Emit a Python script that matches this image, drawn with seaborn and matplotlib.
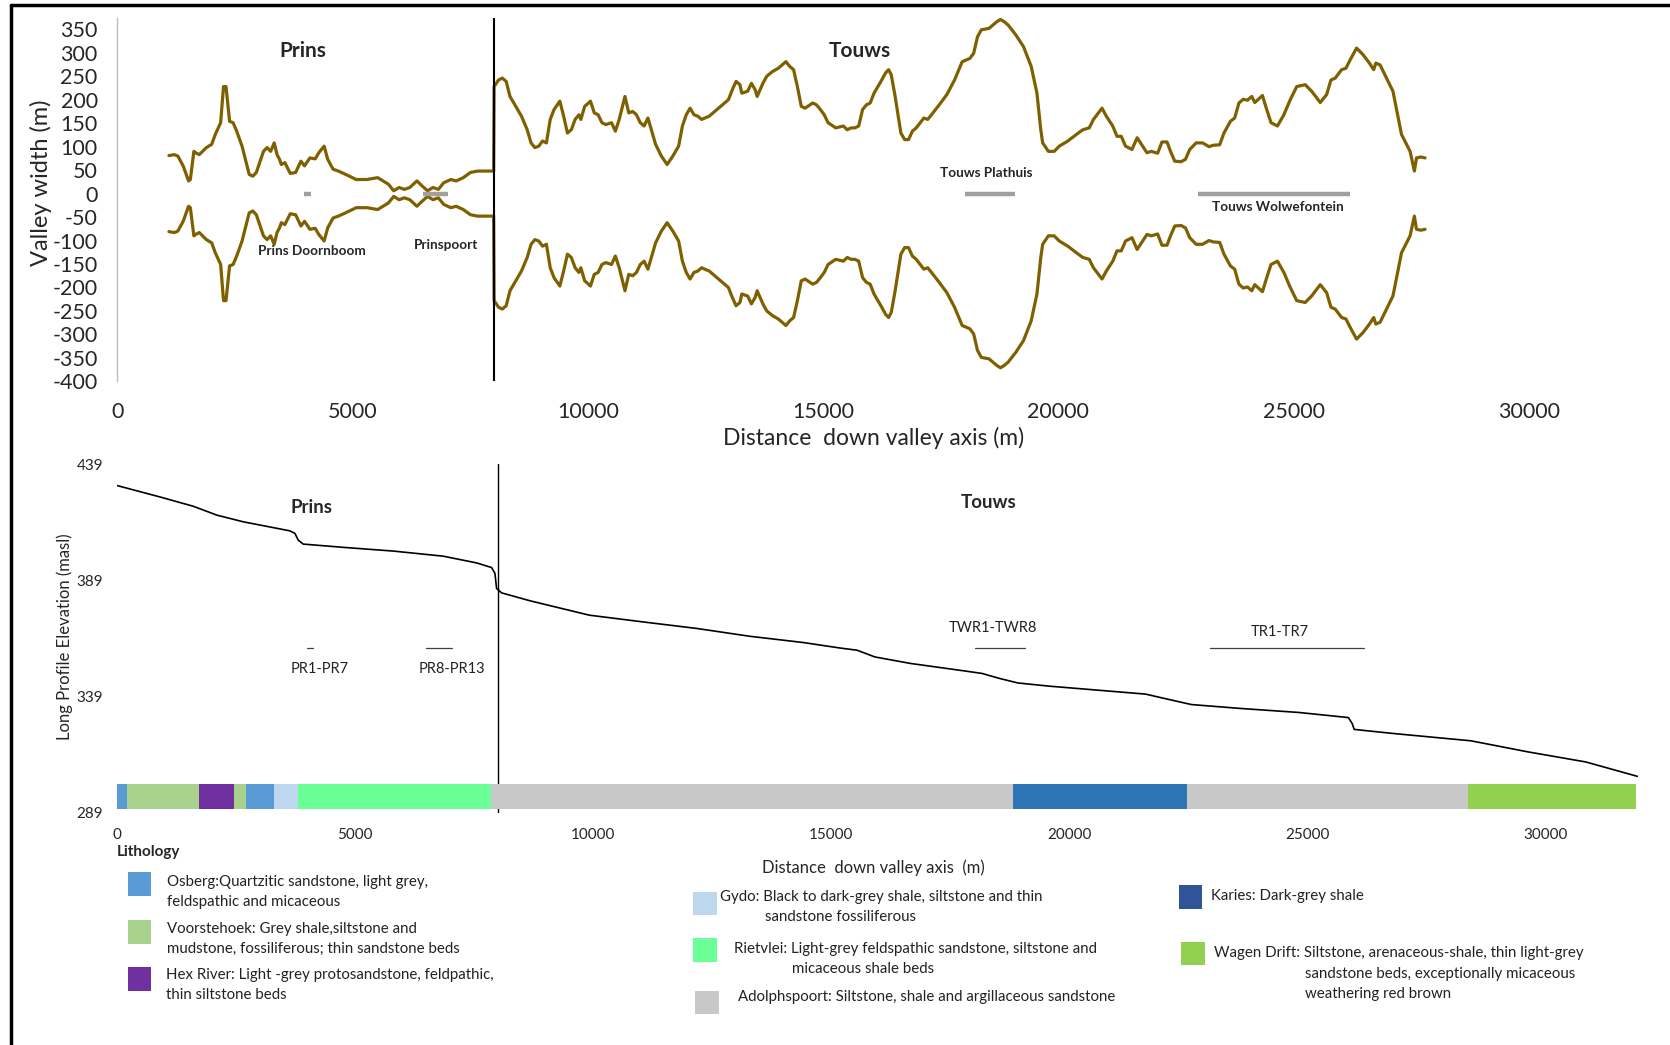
import matplotlib
matplotlib.use("Agg")
import matplotlib.pyplot as plt
from matplotlib.patches import Rectangle
from matplotlib.lines import Line2D
import seaborn as sns
import numpy as np

# ---------------- data ----------------
# Valley half-width (m) along the valley axis (m); the valley floor is drawn symmetric (+/-)
width_dist = [
    1100, 1213, 1289, 1403, 1517, 1555, 1630, 1668, 1744, 1896, 2009, 2085, 2199, 2260, 2313,
    2389, 2464, 2540, 2654, 2806, 2882, 2957, 3109, 3185, 3261, 3337, 3397, 3450, 3488, 3564,
    3678, 3792, 3905, 3981, 4095, 4209, 4284, 4398, 4474, 4588, 4701, 4853, 5081, 5308, 5536,
    5649, 5763, 5877, 5990, 6104, 6218, 6370, 6483, 6597, 6711, 6825, 6938, 7090, 7204, 7355,
    7507, 7659, 8000,
    8010, 8103, 8184, 8266, 8347, 8469, 8591, 8713, 8795, 8876, 8958, 9039, 9121, 9202, 9283,
    9406, 9487, 9568, 9650, 9731, 9813, 9853, 9935, 10016, 10057, 10138, 10220, 10301, 10383,
    10505, 10586, 10668, 10790, 10871, 10953, 11034, 11116, 11197, 11278, 11360, 11441, 11563,
    11686, 11808, 11930, 12011, 12093, 12174, 12256, 12337, 12418, 12581, 12744, 12907, 12988,
    13070, 13151, 13233, 13273, 13396, 13477, 13558, 13599, 13721, 13803, 13925, 14047, 14128,
    14210, 14291, 14373, 14454, 14536, 14617, 14780, 14861, 14943, 15024, 15106, 15269, 15431,
    15513, 15594, 15676, 15757, 15839, 15920, 16001, 16083, 16164, 16246, 16327, 16392, 16449,
    16531, 16653, 16734, 16816, 16897, 16979, 17141, 17223, 17304, 17467, 17630, 17793, 17956,
    18119, 18200, 18281, 18363, 18526, 18689, 18770, 18851, 18933, 19096, 19259, 19422, 19544,
    19626, 19666, 19788, 19910, 20018, 20200, 20382, 20518, 20655, 20745, 20927, 21018, 21155,
    21245, 21336, 21427, 21564, 21673, 21791, 21882, 21973, 22109, 22200, 22309, 22382, 22473,
    22609, 22700, 22791, 22927, 23064, 23200, 23291, 23427, 23518, 23655, 23745, 23836, 23927,
    24018, 24109, 24173, 24336, 24427, 24518, 24655, 24791, 24927, 25064, 25245, 25382, 25564,
    25700, 25791, 25882, 26018, 26109, 26200, 26336, 26473, 26609, 26700, 26745, 26836, 26973,
    27109, 27200, 27291, 27382, 27473, 27564, 27609, 27700, 27791,
]
half_width = [
    81, 83, 80, 59, 27, 30, 90, 87, 83, 98, 105, 126, 151, 228, 228,
    154, 151, 133, 101, 41, 37, 45, 90, 98, 90, 108, 83, 73, 62, 66,
    43, 45, 69, 59, 76, 74, 87, 101, 73, 52, 48, 41, 30, 30, 34,
    27, 20, 6, 13, 9, 13, 27, 16, 6, 13, 9, 23, 30, 27, 34,
    45, 48, 48,
    228, 242, 246, 239, 207, 186, 165, 136, 108, 98, 101, 112, 108, 158, 179,
    197, 165, 129, 136, 158, 168, 158, 186, 193, 197, 172, 168, 151, 147,
    151, 133, 158, 207, 172, 175, 168, 151, 144, 161, 133, 105, 80,
    62, 80, 101, 144, 168, 182, 168, 165, 158, 165, 179, 193, 200,
    221, 239, 232, 214, 218, 235, 221, 207, 235, 250, 260, 267, 274,
    281, 271, 264, 228, 186, 182, 193, 189, 179, 168, 151, 140, 144,
    136, 140, 140, 144, 179, 189, 193, 214, 228, 242, 257, 264, 253,
    207, 129, 115, 115, 133, 140, 161, 158, 168, 189, 211, 242, 281,
    288, 299, 334, 349, 352, 366, 371, 366, 359, 338, 313, 271, 214,
    136, 108, 90, 90, 101, 112, 126, 136, 140, 158, 182, 165, 144,
    122, 122, 101, 94, 119, 101, 87, 90, 86, 110, 110, 90, 69,
    68, 73, 94, 108, 108, 100, 103, 104, 129, 154, 161, 193, 201,
    199, 207, 194, 209, 179, 151, 144, 168, 200, 228, 232, 218, 194,
    211, 242, 246, 264, 267, 285, 310, 296, 278, 264, 278, 274, 246,
    218, 172, 126, 108, 90, 48, 76, 78, 76,
]

# Long profile (distance m, elevation masl)
profile_dist = [0, 899, 1598, 2090, 2649, 3629, 3734, 3804, 3909, 4749, 5799, 6849, 7550,
                7865, 7935, 7970, 8075, 8670, 9916, 11041, 12166, 13291, 14417, 15167, 15542,
                15917, 16667, 17793, 18167, 18543, 18919, 19594, 21603, 22004, 22566, 23613,
                24818, 25862, 25942, 25984, 26826, 28434, 29641, 30846, 31930]
profile_elev = [429.9, 425.0, 421.0, 417.2, 414.3, 410.4, 409.3, 406.4, 404.7, 403.3, 401.7,
                399.5, 396.6, 394.6, 392.1, 385.6, 383.7, 380.3, 374.1, 371.2, 368.4, 365.0,
                362.3, 360.0, 359.0, 356.1, 353.3, 350.1, 349.0, 346.8, 344.9, 343.5, 340.1,
                338.2, 335.6, 333.9, 332.2, 330.0, 327.4, 324.9, 323.1, 320.0, 315.2, 310.9,
                304.7]

# Study reaches
reach_names = ["Prins Doornboom", "Prinspoort", "Touws Plathuis", "Touws Wolwefontein"]
reach_codes = ["PR1-PR7", "PR8-PR13", "TWR1-TWR8", "TR1-TR7"]
reach_start = [3980, 6490, 18010, 22960]
reach_end = [4120, 7040, 19070, 26200]

# Lithology along the valley axis
litho_units = ["Osberg", "Voorstehoek", "Hex River", "Voorstehoek", "Osberg", "Gydo",
               "Rietvlei", "Adolphspoort", "Karies", "Adolphspoort", "Wagen Drift"]
litho_bounds = [0, 217, 1718, 2452, 2716, 3286, 3796, 7852, 18814, 22465, 28376, 31900]
bar_colours = {"Osberg": "#5B9BD5", "Voorstehoek": "#A9D18E", "Hex River": "#7030A0",
               "Gydo": "#BDD7EE", "Rietvlei": "#6BFF98", "Adolphspoort": "#C8C8C8",
               "Karies": "#2E75B6", "Wagen Drift": "#92D050"}
legend_colours = {"Osberg": "#5B9BD5", "Voorstehoek": "#A9D18E", "Hex River": "#7030A0",
                  "Gydo": "#BDD7EE", "Rietvlei": "#6BFF98", "Adolphspoort": "#C8C8C8",
                  "Karies": "#2F5597", "Wagen Drift": "#92D050"}

river_split = 8000

# ---------------- figure ----------------
sns.set_theme(style="white")
plt.rcParams["font.family"] = ["Lato", "DejaVu Sans"]
plt.rcParams["axes.unicode_minus"] = False

W, H = 1568.0, 981.0
def fx(px):
    return px / W
def fy(py):
    return 1 - py / H

fig = plt.figure(figsize=(16.7, 10.45), dpi=100)
fig.patch.set_facecolor("white")

gold = "#7F6000"

# ---- top panel: valley width ----
ax1 = fig.add_axes([fx(110), fy(358), fx(1524) - fx(110), fy(16.5) - fy(358)])
hw = np.array(half_width, dtype=float)
sns.lineplot(x=width_dist, y=hw, ax=ax1, color=gold, lw=2.3, sort=False, estimator=None)
sns.lineplot(x=width_dist, y=-hw, ax=ax1, color=gold, lw=2.3, sort=False, estimator=None)
ax1.axvline(river_split, color="black", lw=1.5)
for s, e in zip(reach_start, reach_end):
    ax1.plot([s, e], [0, 0], color="#A0A0A0", lw=3.2, solid_capstyle="butt")
ax1.set_xlim(0, 32000)
ax1.set_ylim(-400, 375)
ax1.set_yticks(np.arange(-400, 351, 50))
ax1.set_xticks(np.arange(0, 30001, 5000))
ax1.tick_params(axis="both", length=0, labelsize=15.5)
ax1.tick_params(axis="y", pad=14)
ax1.tick_params(axis="x", pad=15)
for sp in ["top", "right", "bottom"]:
    ax1.spines[sp].set_visible(False)
ax1.spines["left"].set_color("#BFBFBF")
ax1.spines["left"].set_linewidth(1.0)
ax1.set_ylabel("Valley width (m)", fontsize=17)
ax1.yaxis.set_label_coords(-0.0435, 0.545)
ax1.set_xlabel("Distance  down valley axis (m)", fontsize=16.5)
ax1.xaxis.set_label_coords(0.502, -0.126)
ax1.text(3937, 303, "Prins", fontsize=15, fontweight="bold", ha="center", va="center")
ax1.text(15770, 303, "Touws", fontsize=15, fontweight="bold", ha="center", va="center")
top_label_pos = [(4140, -122), (6990, -109), (18460, 43), (24660, -29)]
for name, (lx, ly) in zip(reach_names, top_label_pos):
    ax1.text(lx, ly, name, fontsize=9.8, fontweight="bold", ha="center", va="center")

# ---- bottom panel: long profile and lithology ----
ax2 = fig.add_axes([fx(110), fy(763), fx(1540.4) - fx(110), fy(436) - fy(763)])
sns.lineplot(x=profile_dist, y=profile_elev, ax=ax2, color="black", lw=1.2,
             sort=False, estimator=None)
ax2.axvline(river_split, color="black", lw=1.0)
starts = litho_bounds[:-1]
widths = [b - a for a, b in zip(litho_bounds[:-1], litho_bounds[1:])]
ax2.barh(y=296, width=widths, left=starts, height=11,
         color=[bar_colours[u] for u in litho_units], edgecolor="none", zorder=3)
for s, e in zip(reach_start, reach_end):
    ax2.plot([s, e], [360, 360], color="#404040", lw=0.9)
bottom_label_pos = [(4250, 351), (7025, 351), (18390, 368.4), (24430, 367)]
for code, (lx, ly) in zip(reach_codes, bottom_label_pos):
    ax2.text(lx, ly, code, fontsize=10.5, ha="center", va="center", color="#222222")
ax2.text(4072, 420.6, "Prins", fontsize=13.5, fontweight="bold", ha="center", va="center")
ax2.text(18300, 422.5, "Touws", fontsize=13.5, fontweight="bold", ha="center", va="center")
ax2.set_xlim(0, 32000)
ax2.set_ylim(289, 439)
ax2.set_yticks([289, 339, 389, 439])
ax2.set_xticks(np.arange(0, 30001, 5000))
ax2.tick_params(axis="both", length=0, labelsize=11)
ax2.tick_params(axis="y", pad=10)
ax2.tick_params(axis="x", pad=11)
for sp in ax2.spines.values():
    sp.set_visible(False)
ax2.set_ylabel("Long Profile Elevation (masl)", fontsize=12)
ax2.yaxis.set_label_coords(-0.0287, 0.505)
ax2.set_xlabel("Distance  down valley axis  (m)", fontsize=12)
ax2.xaxis.set_label_coords(0.4965, -0.135)

# ---- lithology legend ----
fig.text(fx(110), fy(800), "Lithology", fontsize=11, fontweight="bold", ha="left", va="center")
legend_boxes = [("Osberg", 120, 819), ("Voorstehoek", 120, 864), ("Hex River", 120, 908),
                ("Gydo", 651, 837), ("Rietvlei", 651, 881), ("Adolphspoort", 653, 930),
                ("Karies", 1107, 831), ("Wagen Drift", 1109, 884)]
for unit, bx, by in legend_boxes:
    fig.add_artist(Rectangle((fx(bx), fy(by + 22)), fx(22), 22 / H,
                             transform=fig.transFigure, facecolor=legend_colours[unit],
                             edgecolor="none"))
legend_lines = [
    (157, 828, "Osberg:Quartzitic sandstone, light grey,"),
    (157, 847, "feldspathic and micaceous"),
    (157, 872, "Voorstehoek: Grey shale,siltstone and"),
    (157, 891, "mudstone, fossiliferous; thin sandstone beds"),
    (156, 915, "Hex River: Light -grey protosandstone, feldpathic,"),
    (156, 934, "thin siltstone beds"),
    (676, 842, "Gydo: Black to dark-grey shale, siltstone and thin"),
    (718, 861, "sandstone fossiliferous"),
    (689, 891, "Rietvlei: Light-grey feldspathic sandstone, siltstone and"),
    (744, 910, "micaceous shale beds"),
    (693, 936, "Adolphspoort: Siltstone, shale and argillaceous sandstone"),
    (1137, 841, "Karies: Dark-grey shale"),
    (1140, 895, "Wagen Drift: Siltstone, arenaceous-shale, thin light-grey"),
    (1225, 914, "sandstone beds, exceptionally micaceous"),
    (1225, 933, "weathering red brown"),
]
for tx, ty, txt in legend_lines:
    fig.text(fx(tx), fy(ty), txt, fontsize=10.8, ha="left", va="center", color="#222222")

# ---- outer frame ----
fig.add_artist(Line2D([fx(10), 1.0], [fy(5), fy(5)], transform=fig.transFigure,
                      color="black", lw=2.5))
fig.add_artist(Line2D([fx(10), fx(10)], [0.0, fy(5)], transform=fig.transFigure,
                      color="black", lw=2.5))

fig.savefig("out.png", dpi=100, facecolor="white")
